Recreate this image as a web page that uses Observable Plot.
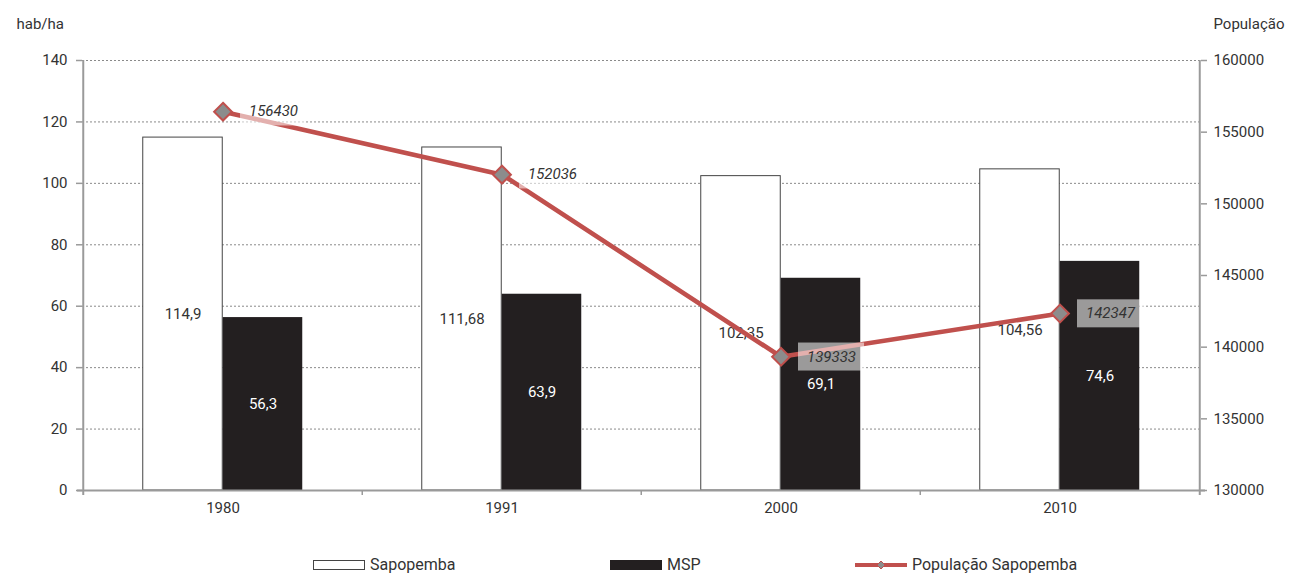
<!DOCTYPE html>
<html>
<head>
<meta charset="utf-8">
<script src="https://cdn.jsdelivr.net/npm/d3@7"></script>
<script src="https://cdn.jsdelivr.net/npm/@observablehq/plot@0.6"></script>
<style>
  html, body { margin: 0; padding: 0; background: #fff; }
  body { font-family: Roboto, "Noto Sans", sans-serif; color: #333; }
  #wrap { position: relative; width: 1294px; }
  #legend { position: relative; width: 1294px; height: 42px; font-size: 16px; color: #333; }
  .item { position: absolute; top: 15px; display: flex; align-items: center; gap: 5px; }
  .item svg { display: block; }
</style>
</head>
<body>
<div id="wrap"></div>
<div id="legend"></div>
<script>
const years = ["1980", "1991", "2000", "2010"];
const sapopemba = [114.9, 111.68, 102.35, 104.56];
const msp = [56.3, 63.9, 69.1, 74.6];
const populacao = [156430, 152036, 139333, 142347];
const leftTicks = [0, 20, 40, 60, 80, 100, 120, 140];
const rightTicks = [130000, 135000, 140000, 145000, 150000, 155000, 160000];
const seriesNames = ["Sapopemba", "MSP", "População Sapopemba"];

const W = 1294, H = 540, ML = 82, MR = 94, MT = 60, MB = 50;
const bw = (W - ML - MR) / years.length;
const barW = 80;
const outer = (bw - 2 * barW) / 2;

const popMin = rightTicks[0], popMax = rightTicks[rightTicks.length - 1];
const leftMax = leftTicks[leftTicks.length - 1];
const toLeft = p => (p - popMin) / (popMax - popMin) * leftMax;
const fromLeft = v => Math.round(v / leftMax * (popMax - popMin) + popMin);
const fmt = v => String(v).replace(".", ",");

const rows = years.map((y, i) => ({year: y, sap: sapopemba[i], msp: msp[i], pop: populacao[i]}));

const RED = "#c0504d";
const AX = "#9a9a9a";
const tickDown = 1.6;

const chart = Plot.plot({
  width: W, height: H,
  marginLeft: ML, marginRight: MR, marginTop: MT, marginBottom: MB,
  style: {fontFamily: "Roboto, sans-serif", fontSize: "15px", color: "#333", background: "white"},
  x: {type: "band", domain: years, padding: 0, axis: null},
  y: {domain: [0, leftMax], axis: null},
  marks: [
    Plot.gridY({ticks: leftTicks.filter(v => v > 0), stroke: "#8a8a8a", strokeOpacity: 1, strokeDasharray: "2,2", strokeWidth: 1}),
    Plot.barY(rows, {x: "year", y: "sap", fill: "white", stroke: "#444", strokeWidth: 1, insetLeft: outer, insetRight: outer + barW}),
    Plot.barY(rows, {x: "year", y: "msp", fill: "#231f20", insetLeft: outer + barW, insetRight: outer}),
    Plot.text(rows, {x: "year", y: d => d.sap / 2, text: d => fmt(d.sap), dx: -barW / 2, fill: "#333", fontSize: 15}),
    Plot.text(rows, {x: "year", y: d => d.msp / 2, text: d => fmt(d.msp), dx: barW / 2, fill: "white", fontSize: 15}),
    // axis lines
    Plot.ruleY([0], {stroke: AX, strokeWidth: 2, insetLeft: -5, insetRight: -5}),
    Plot.ruleX([years[0]], {dx: -bw / 2, y1: -tickDown, y2: leftMax, stroke: AX, strokeWidth: 2}),
    Plot.ruleX([years[years.length - 1]], {dx: bw / 2, y1: -tickDown, y2: leftMax, stroke: AX, strokeWidth: 2}),
    Plot.ruleX(years.slice(1), {dx: -bw / 2, y1: -tickDown, y2: 0, stroke: AX, strokeWidth: 1.5}),
    Plot.axisY({ticks: leftTicks, tickSize: 6, tickPadding: 9, stroke: AX, strokeWidth: 1.5, fill: "#333", label: null, fontSize: 15}),
    Plot.axisY({anchor: "right", ticks: rightTicks.map(toLeft), tickFormat: v => String(fromLeft(v)), tickSize: 6, tickPadding: 7, stroke: AX, strokeWidth: 1.5, fill: "#333", label: null, fontSize: 15}),
    Plot.axisX({tickSize: 0, tickPadding: 12, label: null, fill: "#333", fontSize: 15}),
    // population line
    Plot.line(rows, {x: "year", y: d => toLeft(d.pop), stroke: RED, strokeWidth: 4.6}),
    Plot.text(rows, {x: "year", y: d => toLeft(d.pop), text: d => String(d.pop), dx: 26, textAnchor: "start", fontStyle: "italic", fill: "#333", fontSize: 15}),
    Plot.dot(rows, {x: "year", y: d => toLeft(d.pop), symbol: "diamond2", r: 8, fill: "#8c8c8c", stroke: RED, strokeWidth: 2}),
    // axis titles
    Plot.text(["hab/ha"], {frameAnchor: "top-left", dx: -66, dy: -42, textAnchor: "start", fill: "#333", fontSize: 15}),
    Plot.text(["População"], {frameAnchor: "top-right", dx: 13, dy: -42, textAnchor: "start", fill: "#333", fontSize: 15})
  ]
});

document.getElementById("wrap").appendChild(chart);

// semi-transparent boxes behind population labels
(function () {
  const svg = chart.tagName.toLowerCase() === "svg" ? chart : chart.querySelector("svg");
  const wanted = new Set(populacao.map(String));
  const texts = Array.from(svg.querySelectorAll("text")).filter(t => wanted.has(t.textContent.trim()));
  if (!texts.length) return;
  const g = texts[0].parentNode;
  const sr = svg.getBoundingClientRect();
  const ns = "http://www.w3.org/2000/svg";
  const boxes = document.createElementNS(ns, "g");
  texts.forEach(t => {
    const r = t.getBoundingClientRect();
    const cy = r.top - sr.top + r.height / 2;
    const rect = document.createElementNS(ns, "rect");
    rect.setAttribute("x", r.left - sr.left - 9);
    rect.setAttribute("y", cy - 14);
    rect.setAttribute("width", r.width + 17);
    rect.setAttribute("height", 28);
    rect.setAttribute("fill", "white");
    rect.setAttribute("fill-opacity", 0.55);
    boxes.appendChild(rect);
  });
  g.parentNode.insertBefore(boxes, g);
})();

// legend
const legend = document.getElementById("legend");
const legendPos = [313, 610, 855];
const swatches = [
  '<svg width="52" height="12"><rect x="0.5" y="1.5" width="51" height="9" fill="white" stroke="#444" stroke-width="1"/></svg>',
  '<svg width="52" height="12"><rect x="0" y="1" width="52" height="10" fill="#231f20"/></svg>',
  '<svg width="52" height="14"><line x1="0" y1="7" x2="52" y2="7" stroke="' + RED + '" stroke-width="4"/><path d="M26,3 L30,7 L26,11 L22,7 Z" fill="#8c8c8c" stroke="' + RED + '" stroke-width="1"/></svg>'
];
seriesNames.forEach((name, i) => {
  const d = document.createElement("div");
  d.className = "item";
  d.style.left = legendPos[i] + "px";
  d.innerHTML = swatches[i] + "<span>" + name + "</span>";
  legend.appendChild(d);
});
</script>
</body>
</html>
